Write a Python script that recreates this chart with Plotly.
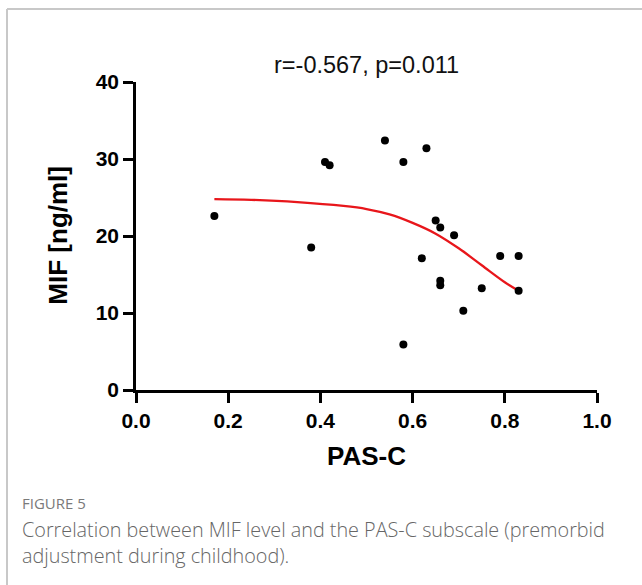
import plotly.graph_objects as go

# PAS-C subscale vs MIF level
pas_c = [0.17, 0.38, 0.41, 0.42, 0.54, 0.58, 0.63, 0.58, 0.62, 0.65, 0.66,
         0.69, 0.66, 0.66, 0.71, 0.75, 0.79, 0.83, 0.83]
mif = [22.6, 18.5, 29.6, 29.2, 32.4, 29.6, 31.4, 5.9, 17.1, 22.0, 21.1,
       20.1, 14.2, 13.6, 10.3, 13.2, 17.4, 17.4, 12.9]

# fitted curve (red)
fit_x = [0.17, 0.25, 0.35, 0.45, 0.50, 0.55, 0.60, 0.65, 0.70, 0.75, 0.80, 0.83]
fit_y = [24.8, 24.7, 24.4, 23.9, 23.5, 22.8, 21.7, 20.3, 18.4, 16.2, 14.0, 12.9]

x_ticks = [0.0, 0.2, 0.4, 0.6, 0.8, 1.0]
x_tick_text = ["0.0", "0.2", "0.4", "0.6", "0.8", "1.0"]
y_ticks = [0, 10, 20, 30, 40]

ARIAL = "Liberation Sans, Arial, sans-serif"

fig = go.Figure()

fig.add_trace(go.Scatter(
    x=fit_x, y=fit_y, mode="lines",
    line=dict(color="#e8161b", width=2.3, shape="spline"),
    hoverinfo="skip",
))
fig.add_trace(go.Scatter(
    x=pas_c, y=mif, mode="markers",
    marker=dict(color="black", size=8),
))

tick_font = dict(family=ARIAL, size=21, color="black", weight="bold")

fig.update_xaxes(
    range=[0, 1], tickvals=x_ticks, ticktext=x_tick_text,
    showline=True, linecolor="black", linewidth=2.5,
    ticks="outside", ticklen=10, tickwidth=2.5, tickcolor="black",
    showgrid=False, zeroline=False, tickfont=tick_font,
)
fig.update_yaxes(
    range=[0, 40], tickvals=y_ticks,
    showline=True, linecolor="black", linewidth=2.5,
    ticks="outside", ticklen=10, tickwidth=2.5, tickcolor="black",
    showgrid=False, zeroline=False, tickfont=tick_font,
)

fig.update_layout(
    width=642, height=585,
    margin=dict(l=136, r=45, t=82, b=195),
    paper_bgcolor="white", plot_bgcolor="white",
    showlegend=False,
    annotations=[
        dict(text="r=-0.567, p=0.011", xref="paper", yref="paper",
             x=0.5, y=1.055, xanchor="center", yanchor="middle", showarrow=False,
             font=dict(family=ARIAL, size=23.5, color="#111")),
        dict(text="<b>PAS-C</b>", xref="paper", yref="paper",
             x=0.501, y=-0.214, xanchor="center", yanchor="middle", showarrow=False,
             font=dict(family=ARIAL, size=26, color="black")),
        dict(text="<b>MIF [ng/ml]</b>", xref="paper", yref="paper", textangle=-90,
             x=-0.168, y=0.503, xanchor="center", yanchor="middle", showarrow=False,
             font=dict(family=ARIAL, size=26, color="black")),
        dict(text="FIGURE 5", xref="paper", yref="paper",
             x=-0.2516, y=-0.367, xanchor="left", yanchor="middle", showarrow=False,
             font=dict(family="Open Sans, sans-serif", size=15, color="#7a7a7a")),
        dict(text="Correlation between MIF level and the PAS-C subscale (premorbid<br>adjustment during childhood).",
             xref="paper", yref="paper", align="left",
             x=-0.2516, y=-0.402, xanchor="left", yanchor="top", showarrow=False,
             font=dict(family="Open Sans, sans-serif", size=19.8, color="#666666", weight=300)),
    ],
    shapes=[
        dict(type="line", xref="paper", yref="paper", x0=-0.2798, x1=1.2, y0=1.237, y1=1.237,
             line=dict(color="#c8c8c8", width=2)),
        dict(type="line", xref="paper", yref="paper", x0=-0.2798, x1=-0.2798, y0=1.237, y1=-0.67,
             line=dict(color="#c8c8c8", width=2)),
    ],
)

# the page's default 8px body margin would shift the whole figure
fig.write_html("out.html", config={"displayModeBar": False},
               post_script="document.body.style.margin='0';")
